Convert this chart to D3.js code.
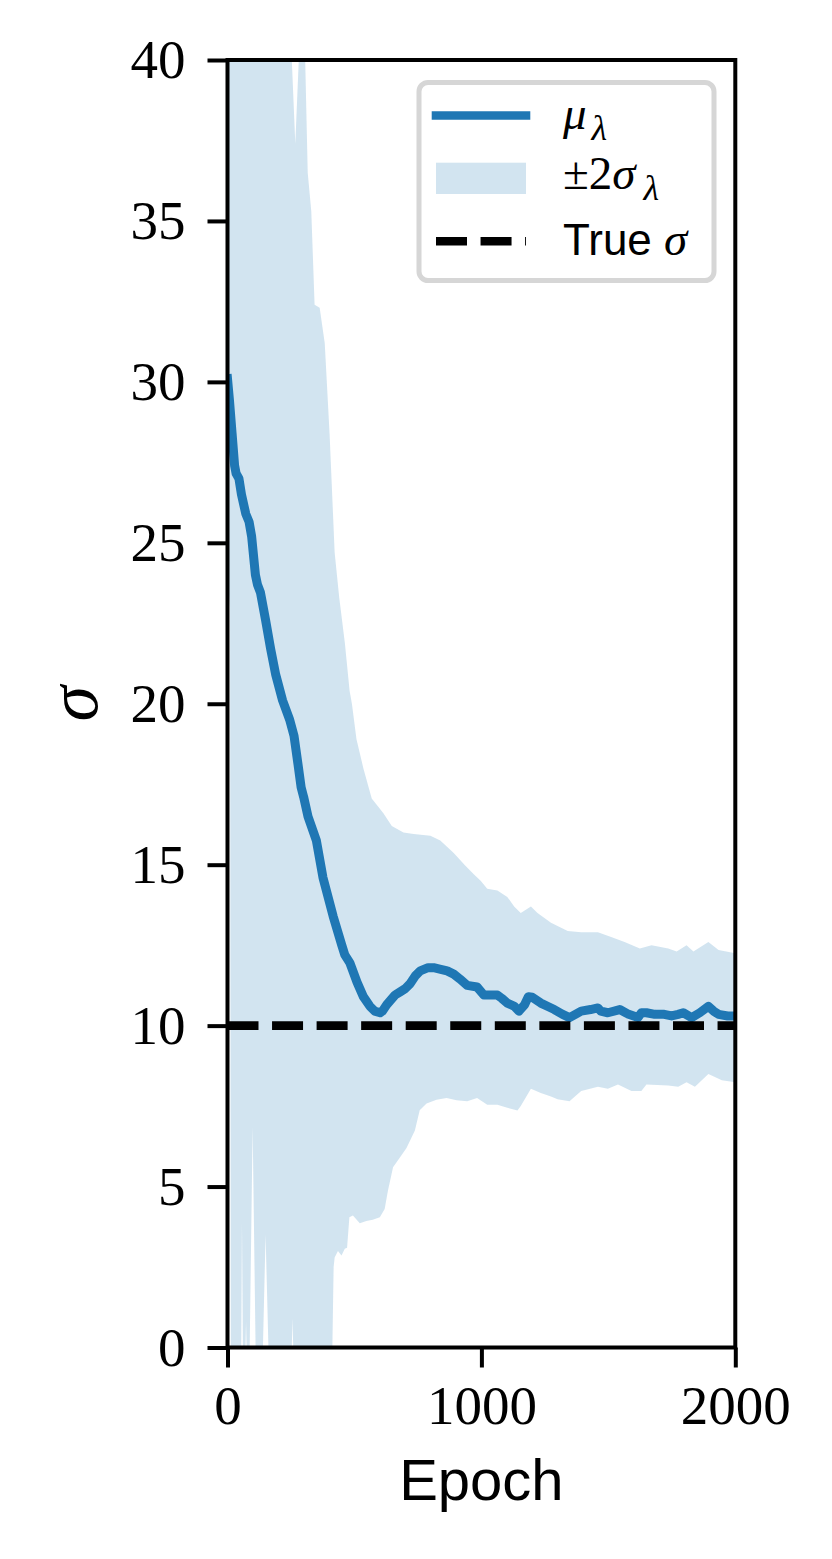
<!DOCTYPE html>
<html>
<head>
<meta charset="utf-8">
<script src="https://cdn.jsdelivr.net/npm/d3@7"></script>
<style>
  html, body { margin: 0; padding: 0; background: #fff; }
  svg { display: block; }
</style>
</head>
<body>
<svg id="chart" width="832" height="1559"></svg>
<script>
// ---- data ----
const meanEpochs = [0, 8, 18, 28, 34, 45, 55, 72, 85, 95, 110, 118, 130, 150, 170, 190, 217, 245, 262, 278, 290, 300, 317, 350, 376, 416, 450, 462, 482, 510, 535, 561, 580, 601, 610, 627, 660, 680, 700, 719, 740, 759, 790, 812, 840, 865, 891, 915, 944, 983, 1010, 1040, 1063, 1080, 1102, 1130, 1148, 1170, 1185, 1200, 1234, 1260, 1287, 1320, 1347, 1393, 1430, 1459, 1470, 1498, 1545, 1580, 1617, 1630, 1650, 1683, 1720, 1749, 1775, 1795, 1828, 1860, 1894, 1915, 1934, 1970, 2000];
const meanValues = [30.1, 29.4, 28.4, 27.4, 27.15, 27.0, 26.5, 25.9, 25.65, 25.2, 24.0, 23.7, 23.45, 22.6, 21.7, 20.9, 20.1, 19.5, 19.0, 18.1, 17.4, 17.1, 16.5, 15.75, 14.6, 13.4, 12.5, 12.2, 11.95, 11.35, 10.9, 10.6, 10.45, 10.4, 10.45, 10.65, 10.95, 11.05, 11.15, 11.3, 11.55, 11.7, 11.8, 11.8, 11.75, 11.7, 11.6, 11.45, 11.25, 11.2, 10.95, 10.95, 10.95, 10.85, 10.7, 10.6, 10.45, 10.65, 10.9, 10.88, 10.7, 10.6, 10.5, 10.35, 10.25, 10.45, 10.5, 10.55, 10.45, 10.4, 10.5, 10.35, 10.25, 10.4, 10.4, 10.35, 10.35, 10.3, 10.35, 10.4, 10.25, 10.4, 10.6, 10.45, 10.35, 10.3, 10.3];

const upperEpochs = [0, 248, 267, 286, 300, 306, 316, 330, 343, 363, 383, 402, 422, 440, 462, 481, 490, 508, 535, 568, 614, 647, 693, 733, 799, 838, 891, 937, 970, 997, 1023, 1063, 1102, 1129, 1155, 1195, 1221, 1274, 1340, 1393, 1459, 1511, 1564, 1624, 1670, 1736, 1769, 1808, 1835, 1894, 1934, 2000];
const upperValues = [60, 41, 37.4, 41, 45, 40.0, 36.5, 35.3, 32.4, 32.3, 31.2, 28.4, 24.7, 23.3, 21.9, 20.4, 20.0, 18.9, 18.0, 17.06, 16.6, 16.2, 16.0, 15.95, 15.9, 15.75, 15.36, 14.97, 14.7, 14.5, 14.25, 14.2, 14.0, 13.7, 13.5, 13.7, 13.5, 13.2, 12.94, 12.9, 12.9, 12.75, 12.6, 12.4, 12.5, 12.4, 12.3, 12.5, 12.3, 12.6, 12.35, 12.25];

const lowerEpochs = [0, 10, 14, 50, 53, 57, 62, 68, 73, 78, 84, 99, 114, 120, 135, 150, 166, 175, 245, 250, 256, 262, 270, 405, 411, 418, 422, 435, 449, 462, 471, 480, 494, 521, 547, 572, 600, 619, 632, 652, 679, 705, 738, 757, 784, 823, 863, 902, 944, 983, 1023, 1063, 1102, 1142, 1155, 1195, 1234, 1274, 1300, 1347, 1393, 1459, 1498, 1538, 1591, 1630, 1650, 1736, 1775, 1808, 1841, 1894, 1947, 2000];
const lowerValues = [24, 23, -8, -8, -1.5, 3.9, -1.5, -1, 0.8, -1, -2, 6.85, -2, -8, -1.5, 3.5, -1.5, -8, -8, -1, 0.9, -1, -8, -8, -1, 2.5, 2.8, 3.0, 2.86, 3.07, 3.1, 4.05, 4.1, 3.86, 3.93, 3.97, 4.05, 4.3, 4.88, 5.6, 5.9, 6.2, 6.74, 7.37, 7.58, 7.7, 7.75, 7.68, 7.65, 7.75, 7.54, 7.54, 7.45, 7.36, 7.5, 8.04, 7.91, 7.8, 7.71, 7.65, 7.97, 8.1, 8.04, 8.17, 7.97, 7.97, 8.17, 8.14, 8.1, 8.24, 8.1, 8.5, 8.3, 8.24];

const trueSigma = 10;
const xTicks = [0, 1000, 2000];
const yTicks = [0, 5, 10, 15, 20, 25, 30, 35, 40];

// ---- layout ----
const L = 227.5, R = 735.3, T = 60, B = 1347.5;
const blue = "#1f77b4";

const svg = d3.select("#chart");
const x = d3.scaleLinear().domain([0, 2000]).range([L, R]);
const y = d3.scaleLinear().domain([0, 40]).range([B, T]);

svg.append("defs").append("clipPath").attr("id", "clip")
  .append("rect").attr("x", L).attr("y", T).attr("width", R - L).attr("height", B - T);

const plot = svg.append("g").attr("clip-path", "url(#clip)");

// band polygon: upper forward, lower backward
const upperPts = upperEpochs.map((e, i) => [e, upperValues[i]]);
const lowerPts = lowerEpochs.map((e, i) => [e, lowerValues[i]]).reverse();
const bandLine = d3.line().x(d => x(d[0])).y(d => y(d[1]));
plot.append("path")
  .attr("d", bandLine(upperPts.concat(lowerPts)) + "Z")
  .attr("fill", blue).attr("fill-opacity", 0.2).attr("stroke", "none");

// mean line
const meanPts = meanEpochs.map((e, i) => [e, meanValues[i]]);
plot.append("path")
  .attr("d", d3.line().x(d => x(d[0])).y(d => y(d[1]))(meanPts))
  .attr("fill", "none").attr("stroke", blue).attr("stroke-width", 9)
  .attr("stroke-linejoin", "round").attr("stroke-linecap", "square");

// true sigma dashed line
plot.append("line")
  .attr("x1", x(0)).attr("x2", x(2000)).attr("y1", y(trueSigma)).attr("y2", y(trueSigma))
  .attr("stroke", "#000").attr("stroke-width", 8.6).attr("stroke-dasharray", "31,13.55");

// axes
const serif = "'Liberation Serif', 'DejaVu Serif', serif";
const yAxis = svg.append("g").attr("transform", `translate(${L},0)`)
  .call(d3.axisLeft(y).tickValues(yTicks).tickSize(20).tickPadding(22).tickFormat(d3.format("d")));
const xAxis = svg.append("g").attr("transform", `translate(0,${B})`)
  .call(d3.axisBottom(x).tickValues(xTicks).tickSize(20).tickPadding(17).tickFormat(d3.format("d")));
[yAxis, xAxis].forEach(g => {
  g.select(".domain").remove();
  g.selectAll(".tick line").attr("stroke", "#000").attr("stroke-width", 4);
  g.selectAll(".tick text").attr("fill", "#000").style("font-family", serif).style("font-size", "55px");
});

// spines
svg.append("rect").attr("x", L).attr("y", T).attr("width", R - L).attr("height", B - T)
  .attr("fill", "none").attr("stroke", "#000").attr("stroke-width", 4);

// axis labels
svg.append("text").attr("x", (L + R) / 2).attr("y", 1500).attr("text-anchor", "middle")
  .style("font-family", "'Liberation Sans', 'DejaVu Sans', sans-serif").style("font-size", "58px")
  .text("Epoch");
svg.append("text").attr("transform", `translate(97,${(T + B) / 2}) rotate(-90)`)
  .attr("text-anchor", "middle")
  .style("font-family", serif).style("font-style", "italic").style("font-size", "72px")
  .text("σ");

// legend
const lg = svg.append("g");
lg.append("rect").attr("x", 419).attr("y", 82.5).attr("width", 295).attr("height", 198)
  .attr("rx", 9).attr("ry", 9).attr("fill", "#fff").attr("fill-opacity", 0.8)
  .attr("stroke", "#d6d6d6").attr("stroke-width", 5);
const rowY = [115.5, 178.3, 241.2];
lg.append("line").attr("x1", 436).attr("x2", 526).attr("y1", rowY[0]).attr("y2", rowY[0])
  .attr("stroke", blue).attr("stroke-width", 8.6).attr("stroke-linecap", "square");
lg.append("rect").attr("x", 436).attr("y", rowY[1] - 15.6).attr("width", 90).attr("height", 31.3)
  .attr("fill", blue).attr("fill-opacity", 0.2);
lg.append("line").attr("x1", 436).attr("x2", 526).attr("y1", rowY[2]).attr("y2", rowY[2])
  .attr("stroke", "#000").attr("stroke-width", 8.6).attr("stroke-dasharray", "31,13.55");

const t1 = lg.append("text").attr("x", 563).attr("y", 129).style("font-family", serif).style("font-size", "47px");
t1.append("tspan").style("font-style", "italic").text("μ");
t1.append("tspan").attr("dx", 5).attr("dy", 11).style("font-style", "italic").style("font-size", "36px").text("λ");

const t2 = lg.append("text").attr("x", 563).attr("y", 189).style("font-family", serif).style("font-size", "47px");
t2.append("tspan").text("±2");
t2.append("tspan").style("font-style", "italic").text("σ");
t2.append("tspan").attr("dx", 8).attr("dy", 11).style("font-style", "italic").style("font-size", "36px").text("λ");

const t3 = lg.append("text").attr("x", 563).attr("y", 255).style("font-family", "'Liberation Sans', 'DejaVu Sans', sans-serif").style("font-size", "44px");
t3.append("tspan").text("True ");
t3.append("tspan").style("font-family", serif).style("font-style", "italic").style("font-size", "47px").text("σ");
</script>
</body>
</html>
